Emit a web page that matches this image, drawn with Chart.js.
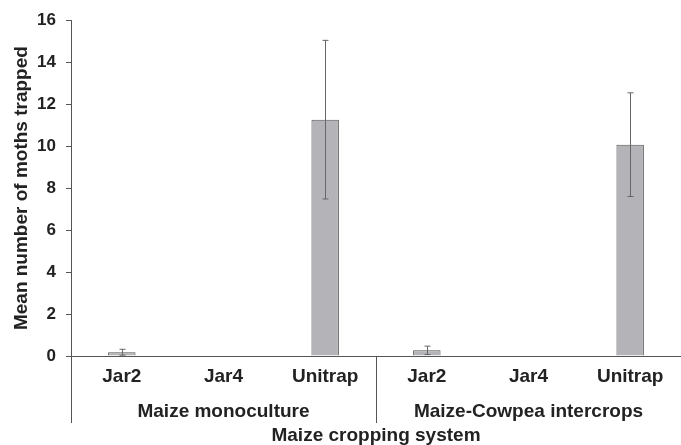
<!DOCTYPE html>
<html>
<head>
<meta charset="utf-8">
<script src="https://cdn.jsdelivr.net/npm/chart.js@4"></script>
<style>
    body { margin: 0; background: #fff; }
    #wrap { width: 681px; height: 445px; position: relative; }
</style>
</head>
<body>
<div id="wrap"><canvas id="chart"></canvas></div>
<script>
const labels = ['Jar2', 'Jar4', 'Unitrap', 'Jar2', 'Jar4', 'Unitrap'];
const groups = ['Maize monoculture', 'Maize-Cowpea intercrops'];
const means = [0.18, 0, 11.26, 0.27, 0, 10.07];
const errors = [0.14, 0, 3.78, 0.2, 0, 2.47];
const yTicks = [0, 2, 4, 6, 8, 10, 12, 14, 16];

const family = '"Liberation Sans", Arial, sans-serif';
const labelFont = { family: family, size: 19, weight: 'bold' };
const tickFont = { family: family, size: 17, weight: 'bold' };

// error bars + group labels below the axis
const extras = {
    id: 'extras',
    afterDatasetsDraw(chart) {
        const ctx = chart.ctx;
        const x = chart.scales.x;
        const y = chart.scales.y;
        ctx.save();
        ctx.strokeStyle = '#666';
        ctx.lineWidth = 1;
        means.forEach((m, i) => {
            if (!errors[i]) return;
            const px = Math.round(x.getPixelForValue(i)) + 0.5;
            const top = y.getPixelForValue(m + errors[i]);
            const bot = y.getPixelForValue(m - errors[i]);
            ctx.beginPath();
            ctx.moveTo(px, top);
            ctx.lineTo(px, bot);
            ctx.moveTo(px - 3, top);
            ctx.lineTo(px + 3, top);
            ctx.moveTo(px - 3, bot);
            ctx.lineTo(px + 3, bot);
            ctx.stroke();
        });
        ctx.restore();
    },
    afterDraw(chart) {
        const ctx = chart.ctx;
        const x = chart.scales.x;
        const area = chart.chartArea;
        const per = labels.length / groups.length;
        ctx.save();
        ctx.strokeStyle = '#555';
        ctx.lineWidth = 1;
        const edges = [];
        for (let g = 0; g <= groups.length; g++) {
            let px;
            if (g === 0) px = area.left;
            else if (g === groups.length) px = area.right;
            else px = (x.getPixelForValue(g * per - 1) + x.getPixelForValue(g * per)) / 2;
            edges.push(px);
            ctx.beginPath();
            ctx.moveTo(Math.round(px) + 0.5, area.bottom);
            ctx.lineTo(Math.round(px) + 0.5, area.bottom + 67);
            ctx.stroke();
        }
        ctx.fillStyle = '#222';
        ctx.font = 'bold 19px ' + family;
        ctx.textAlign = 'center';
        ctx.textBaseline = 'middle';
        groups.forEach((g, i) => {
            ctx.fillText(g, (edges[i] + edges[i + 1]) / 2, area.bottom + 56);
        });
        ctx.restore();
    }
};

new Chart(document.getElementById('chart'), {
    type: 'bar',
    data: {
        labels: labels,
        datasets: [{
            data: means,
            backgroundColor: '#b4b4b8',
            borderColor: '#555',
            borderWidth: 1,
            categoryPercentage: 1,
            barPercentage: 0.27
        }]
    },
    options: {
        responsive: true,
        maintainAspectRatio: false,
        animation: false,
        layout: { padding: { top: 19, right: 0, left: 0, bottom: 0 } },
        plugins: { legend: { display: false }, tooltip: { enabled: false } },
        scales: {
            x: {
                grid: { display: false, drawTicks: false },
                border: { display: true, color: '#555' },
                ticks: { font: labelFont, color: '#222', padding: 9 },
                title: {
                    display: true, text: 'Maize cropping system', color: '#222', padding: 0,
                    font: { family: family, size: 19, weight: 'bold', lineHeight: 0.95 }
                },
                afterFit: s => { s.height = 89; }
            },
            y: {
                min: 0,
                max: 16,
                afterBuildTicks: s => { s.ticks = yTicks.map(v => ({ value: v })); },
                grid: { drawOnChartArea: false, tickLength: 5, color: '#555' },
                border: { display: true, color: '#555' },
                ticks: { font: tickFont, color: '#222', padding: 10 },
                title: { display: true, text: 'Mean number of moths trapped', font: labelFont, color: '#222', padding: { top: 10, bottom: 0 } },
                afterFit: s => { s.width = 71; }
            }
        }
    },
    plugins: [extras]
});
</script>
</body>
</html>
